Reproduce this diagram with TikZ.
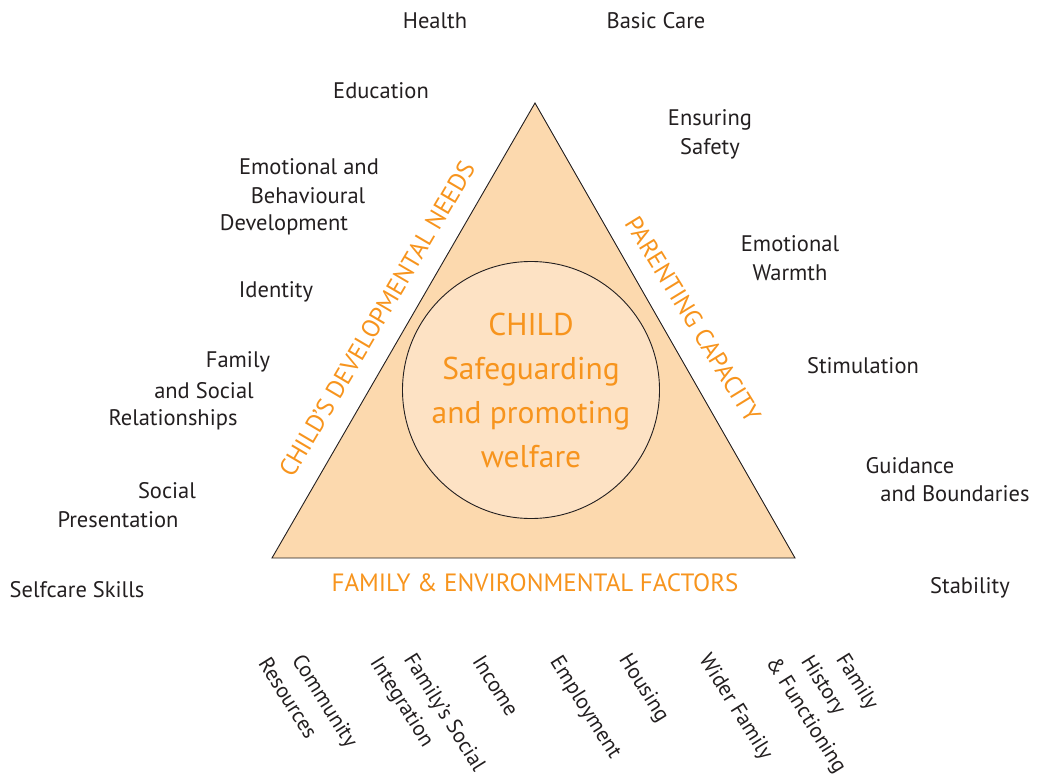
\documentclass[tikz,border=0pt]{standalone}
\usepackage{fontspec}
\setmainfont{PT Sans}
\definecolor{trifill}{HTML}{FCD9AE}
\definecolor{circfill}{HTML}{FDE2C4}
\definecolor{org}{HTML}{F7941D}
\definecolor{txt}{HTML}{231F20}
\begin{document}
\begin{tikzpicture}[x=1pt,y=-1pt,
  lab/.style={font=\fontsize{22.5}{29}\selectfont, text=txt, inner sep=0pt, align=center},
  rlab/.style={lab, font=\fontsize{21.5}{29}\selectfont, rotate=-58, anchor=west},
  side/.style={font=\fontsize{25}{29}\selectfont, text=org, inner sep=0pt},
  outline/.style={draw=txt, line width=0.9pt}]
\useasboundingbox (0,0) rectangle (1039,781);
\coordinate (A) at (535,103);
\coordinate (B) at (272,558);
\coordinate (C) at (795,558);
\draw[outline, fill=trifill] (A) -- (B) -- (C) -- cycle;
\node[outline, circle, fill=circfill, minimum size=257pt, inner sep=0pt, text=org,
      font=\fontsize{31.5}{44}\selectfont, align=center] (child) at (531,390)
      {CHILD\\Safeguarding\\and promoting\\welfare};
% side labels
\node[side, rotate=59.5] (dev) at (377,319) {CHILD’S DEVELOPMENTAL NEEDS};
\node[side, rotate=-58.5] (par) at (693,319) {PARENTING CAPACITY};
\node[side] (fam) at (535,583) {FAMILY \& ENVIRONMENTAL FACTORS};
% left labels
\node[lab] (health) at (435,21) {Health};
\node[lab] (educ) at (381,91) {Education};
\node[lab] (emo1) at (309,167) {Emotional and};
\node[lab] (emo2) at (308,196) {Behavioural};
\node[lab] (emo3) at (284,225) {Development};
\node[lab] (ident) at (276,292) {Identity};
\node[lab] (fsr1) at (238,362) {Family};
\node[lab] (fsr2) at (204,391) {and Social};
\node[lab] (fsr3) at (173,420) {Relationships};
\node[lab] (soc1) at (167,491) {Social};
\node[lab] (soc2) at (118,520) {Presentation};
\node[lab] (self) at (77,590) {Selfcare Skills};
% right labels
\node[lab] (basic) at (656,21) {Basic Care};
\node[lab] (safe) at (710,134) {Ensuring\\Safety};
\node[lab] (warm) at (790,258) {Emotional\\Warmth};
\node[lab] (stim) at (863,366) {Stimulation};
\node[lab] (gui1) at (910,466) {Guidance};
\node[lab] (gui2) at (955,494) {and Boundaries};
\node[lab] (stab) at (970,588) {Stability};
% bottom labels
\node[rlab] (com1) at (296,657) {Community};
\node[rlab] (com2) at (264,659) {Resources};
\node[rlab] (fsi1) at (408,656) {Family’s Social};
\node[rlab] (fsi2) at (374,659) {Integration};
\node[rlab] (inc) at (478,657) {Income};
\node[rlab] (emp) at (554,659) {Employment};
\node[rlab] (hou) at (623,656) {Housing};
\node[rlab] (wid) at (703,656) {Wider Family};
\node[rlab] (fh1) at (840,656) {Family};
\node[rlab] (fh2) at (805,658) {History};
\node[rlab] (fh3) at (770,659) {\& Functioning};
\end{tikzpicture}
\end{document}
